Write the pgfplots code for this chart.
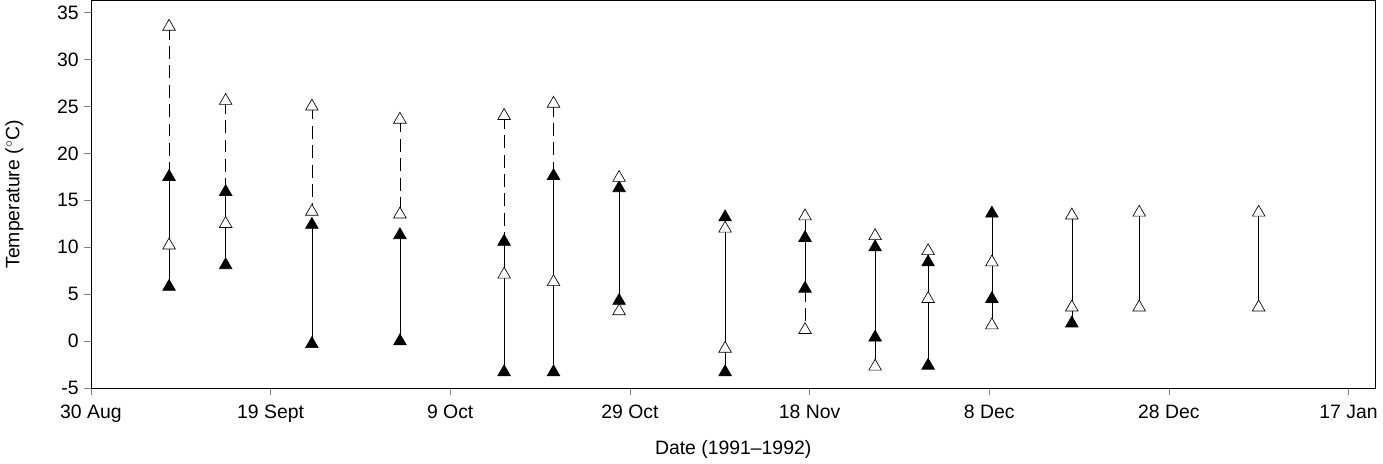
\documentclass[border=0pt]{standalone}
\usepackage{pgfplots}
\pgfplotsset{compat=1.18}
\usepackage{fontspec}
\setmainfont{Liberation Sans}
\begin{document}
\begin{tikzpicture}
\begin{axis}[scale only axis, width=795pt, height=240pt,
  xmin=0, xmax=143, ymin=-5, ymax=36.3,
  xtick={0,20,40,60,80,100,120,140},
  xticklabels={30 Aug,19 Sept,9 Oct,29 Oct,18 Nov,8 Dec,28 Dec,17 Jan},
  ytick={-5,0,5,10,15,20,25,30,35},
  tick align=outside, tick pos=left, major tick length=4pt,
  /pgf/number format/assume math mode=true,
  xlabel={Date (1991--1992)}, ylabel={Temperature ($^{\circ}$C)},
  tick label style={font=\large}, label style={font=\large},
  ylabel style={yshift=14pt}, xlabel style={yshift=-4pt},
  xticklabel style={yshift=-3pt},
  clip=false]
% dashed segments
\addplot[black, dash pattern=on 8pt off 4pt, forget plot, unbounded coords=jump] coordinates {
(8.7,33.5)(8.7,17.5) (nan,nan)
(15,25.6)(15,15.9) (nan,nan)
(24.6,25)(24.6,13.8) (nan,nan)
(34.4,23.6)(34.4,13.5) (nan,nan)
(46,24)(46,10.6) (nan,nan)
(51.5,25.3)(51.5,17.6) (nan,nan)
(79.5,5.6)(79.5,1.2)
};
% solid segments
\addplot[black, forget plot, unbounded coords=jump] coordinates {
(8.7,17.5)(8.7,5.8) (nan,nan)
(15,15.9)(15,8.1) (nan,nan)
(24.6,12.4)(24.6,-0.3) (nan,nan)
(34.4,11.3)(34.4,0) (nan,nan)
(46,10.6)(46,-3.3) (nan,nan)
(51.5,17.6)(51.5,-3.3) (nan,nan)
(58.8,16.3)(58.8,4.3) (nan,nan)
(70.6,13.2)(70.6,-3.3) (nan,nan)
(79.5,13.3)(79.5,5.6) (nan,nan)
(87.3,11.2)(87.3,-2.7) (nan,nan)
(93.2,9.6)(93.2,-2.6) (nan,nan)
(100.3,13.6)(100.3,1.7) (nan,nan)
(109.2,13.4)(109.2,1.9) (nan,nan)
(116.7,13.7)(116.7,3.6) (nan,nan)
(130,13.7)(130,3.6)
};
% filled triangles
\addplot[only marks, mark=triangle*, mark size=4.5pt, black, mark options={fill=black}] coordinates {
(8.7,17.5)(8.7,5.8)(15,15.9)(15,8.1)(24.6,12.4)(24.6,-0.3)(34.4,11.3)(34.4,0)
(46,10.6)(46,-3.3)(51.5,17.6)(51.5,-3.3)(58.8,16.3)(58.8,4.3)(70.6,13.2)(70.6,-3.3)
(79.5,11)(79.5,5.6)(87.3,10)(87.3,0.4)(93.2,8.4)(93.2,-2.6)(100.3,13.6)(100.3,4.5)(109.2,1.9)
};
% open triangles
\addplot[only marks, mark=triangle*, mark size=4.5pt, black, mark options={fill=white}] coordinates {
(8.7,33.5)(8.7,10.2)(15,25.6)(15,12.5)(24.6,25)(24.6,13.8)(34.4,23.6)(34.4,13.5)
(46,24)(46,7.1)(51.5,25.3)(51.5,6.3)(58.8,17.4)(58.8,3.2)(70.6,12)(70.6,-0.8)
(79.5,13.3)(79.5,1.2)(87.3,11.2)(87.3,-2.7)(93.2,9.6)(93.2,4.5)(100.3,8.4)(100.3,1.7)
(109.2,13.4)(109.2,3.6)(116.7,13.7)(116.7,3.6)(130,13.7)(130,3.6)
};
\end{axis}
\end{tikzpicture}
\end{document}
